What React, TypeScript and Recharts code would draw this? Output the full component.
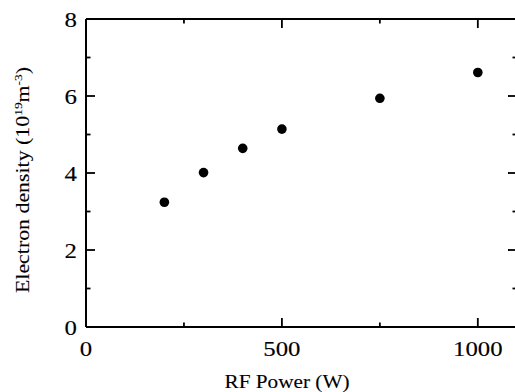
import { ScatterChart, Scatter, XAxis, YAxis } from 'recharts'

// RF power (W) vs electron density (10^19 m^-3)
const power = [200, 300, 400, 500, 750, 1000]
const density = [3.24, 4.01, 4.64, 5.14, 5.94, 6.61]

const xTicks = [0, 250, 500, 750, 1000]
const yTicks = [0, 1, 2, 3, 4, 5, 6, 7, 8]

const data = power.map((p, i) => ({ p, n: density[i] }))

const FONT = '"Liberation Serif", "Times New Roman", serif'
const MAJOR = 9
const MINOR = 4.5
const INK = '#000'

const BottomTick = ({ x, y, payload }: any) => {
  const major = payload.value % 500 === 0
  const label = String(payload.value)
  return (
    <g>
      <line x1={x} x2={x} y1={y} y2={y - (major ? MAJOR : MINOR)} stroke={INK} strokeWidth={1.8} />
      {major && (
        <text
          x={x}
          y={y + 29}
          textAnchor="middle"
          fontSize={22}
          fontFamily={FONT}
          fill={INK}
          stroke={INK}
          strokeWidth={0.15}
          textLength={label.length * 12.4}
          lengthAdjust="spacingAndGlyphs"
        >
          {label}
        </text>
      )}
    </g>
  )
}

const TopTick = ({ x, y, payload }: any) => {
  const major = payload.value % 500 === 0
  return <line x1={x} x2={x} y1={y} y2={y + (major ? MAJOR : MINOR)} stroke={INK} strokeWidth={1.8} />
}

const LeftTick = ({ x, y, payload }: any) => {
  const major = payload.value % 2 === 0
  return (
    <g>
      <line x1={x} x2={x + (major ? MAJOR : MINOR)} y1={y} y2={y} stroke={INK} strokeWidth={1.8} />
      {major && (
        <text
          x={x - 9}
          y={y + 7.5}
          textAnchor="end"
          fontSize={22}
          fontFamily={FONT}
          fill={INK}
          stroke={INK}
          strokeWidth={0.15}
          textLength={12.4}
          lengthAdjust="spacingAndGlyphs"
        >
          {payload.value}
        </text>
      )}
    </g>
  )
}

const RightTick = ({ x, y, payload }: any) => {
  const major = payload.value % 2 === 0
  return <line x1={x} x2={x - (major ? MAJOR : MINOR)} y1={y} y2={y} stroke={INK} strokeWidth={1.8} />
}

const Dot = ({ cx, cy }: any) => <circle cx={cx} cy={cy} r={4.8} fill={INK} />

const XTitle = () => (
  <text
    x={287}
    y={388}
    textAnchor="middle"
    fontSize={18}
    fontFamily={FONT}
    fill={INK}
    stroke={INK}
    strokeWidth={0.1}
    textLength={125}
    lengthAdjust="spacingAndGlyphs"
  >
    RF Power (W)
  </text>
)

const YTitle = () => (
  <text
    transform="translate(29,180) rotate(-90)"
    textAnchor="middle"
    fontSize={18}
    fontFamily={FONT}
    fill={INK}
    stroke={INK}
    strokeWidth={0.1}
    textLength={226}
    lengthAdjust="spacingAndGlyphs"
  >
    Electron density (10
    <tspan fontSize={11} dy={-7}>19</tspan>
    <tspan dy={7}>m</tspan>
    <tspan fontSize={11} dy={-7}>-3</tspan>
    <tspan dy={7}>)</tspan>
  </text>
)

export default function App() {
  return (
    <div style={{ position: 'fixed', left: 0, top: 0, width: 515, height: 392, overflow: 'hidden', background: '#fff' }}>
      <ScatterChart width={530} height={392} margin={{ top: 18, right: 12, bottom: 64, left: 85 }}>
        <XAxis
          xAxisId="b"
          type="number"
          dataKey="p"
          domain={[0, 1100]}
          ticks={xTicks}
          height={1}
          tickSize={0}
          tickMargin={0}
          tick={<BottomTick />}
          stroke={INK}
          axisLine={{ stroke: INK, strokeWidth: 2 }}
          label={{ content: () => <XTitle /> }}
          interval={0}
        />
        <XAxis
          xAxisId="t"
          orientation="top"
          type="number"
          dataKey="p"
          domain={[0, 1100]}
          ticks={xTicks}
          height={1}
          tickSize={0}
          tickMargin={0}
          tick={<TopTick />}
          stroke={INK}
          axisLine={{ stroke: INK, strokeWidth: 2 }}
          interval={0}
        />
        <YAxis
          yAxisId="l"
          type="number"
          dataKey="n"
          domain={[0, 8]}
          ticks={yTicks}
          width={1}
          tickSize={0}
          tickMargin={0}
          tick={<LeftTick />}
          stroke={INK}
          axisLine={{ stroke: INK, strokeWidth: 2 }}
          label={{ content: () => <YTitle /> }}
          interval={0}
        />
        <YAxis
          yAxisId="r"
          orientation="right"
          type="number"
          dataKey="n"
          domain={[0, 8]}
          ticks={yTicks}
          width={1}
          tickSize={0}
          tickMargin={0}
          tick={<RightTick />}
          stroke={INK}
          axisLine={{ stroke: INK, strokeWidth: 2 }}
          interval={0}
        />
        <Scatter data={data} xAxisId="b" yAxisId="l" shape={<Dot />} isAnimationActive={false} />
        <Scatter data={data} xAxisId="t" yAxisId="r" shape={() => <g />} isAnimationActive={false} />
      </ScatterChart>
    </div>
  )
}
